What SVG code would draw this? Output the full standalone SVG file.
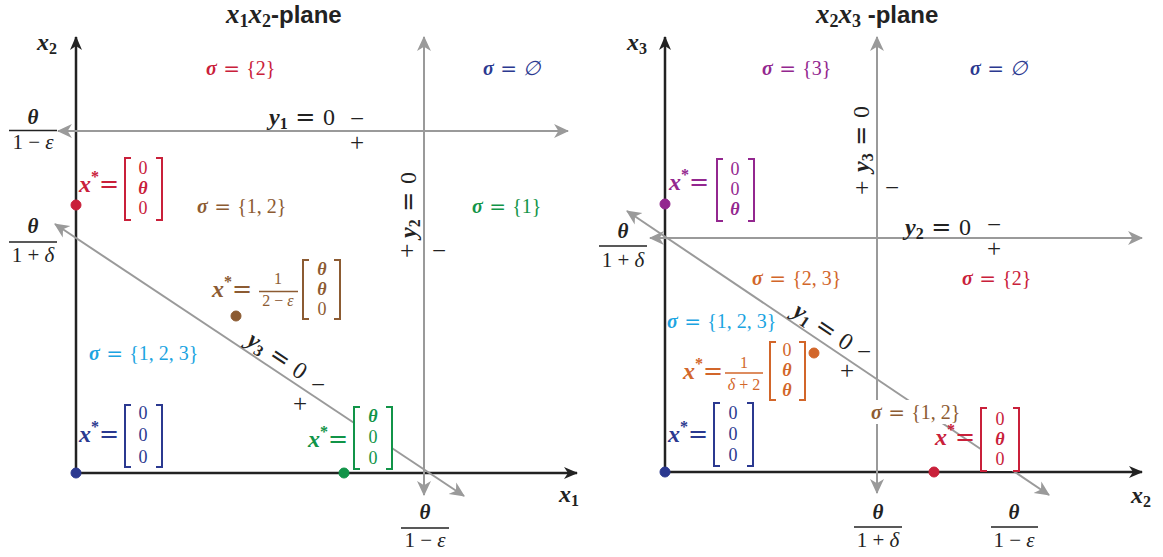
<svg xmlns="http://www.w3.org/2000/svg" width="1163" height="557" viewBox="0 0 1163 557">
<defs>
<style>
text{font-family:"Liberation Serif","DejaVu Serif",serif;}
.bi{font-style:italic;font-weight:bold;}
.t{font-size:24px;fill:#222;}
.tt{font-size:27px;fill:#222;}
.xs{font-size:24px;}
.sub{font-size:16px;font-weight:bold;font-style:normal;}
.tsub{font-size:18px;font-weight:bold;font-style:normal;}
.ttl{font-family:"Liberation Sans",Arial,sans-serif;font-weight:bold;font-size:24px;font-style:normal;}
.sg{font-size:20px;}
.eq{font-family:"DejaVu Sans",sans-serif;}
.me{font-size:18px;text-anchor:middle;}
.fr{font-size:21px;text-anchor:middle;fill:#222;}
.sf{font-size:16px;text-anchor:middle;}
.pm{font-size:25px;text-anchor:middle;fill:#222;}
.ax{stroke:#222;stroke-width:2.5;fill:none;}
.gl{stroke:#9a9a9a;stroke-width:2;fill:none;}
.fl{stroke:#222;stroke-width:1.4;}
.bg{fill:#fff;}
.red{fill:#c9203a;stroke:#c9203a;}
.navy{fill:#2b3990;stroke:#2b3990;}
.brown{fill:#8c5b32;stroke:#8c5b32;}
.green{fill:#119448;stroke:#119448;}
.blue{fill:#1ba4e1;stroke:#1ba4e1;}
.purple{fill:#93278f;stroke:#93278f;}
.orange{fill:#d2662a;stroke:#d2662a;}
text.red,text.navy,text.brown,text.green,text.blue,text.purple,text.orange{stroke:none;}
path.br{fill:none;stroke-width:2;}
</style>
<marker id="ak" viewBox="0 0 14 14" refX="13" refY="7" markerWidth="14" markerHeight="14" markerUnits="userSpaceOnUse" orient="auto-start-reverse"><path d="M0,1 L14,7 L0,13 L4,7 z" fill="#222"/></marker>
<marker id="ag" viewBox="0 0 14 14" refX="13" refY="7" markerWidth="15" markerHeight="15" markerUnits="userSpaceOnUse" orient="auto-start-reverse"><path d="M0,0.5 L14,7 L0,13.5 L4,7 z" fill="#9a9a9a"/></marker>
</defs>
<rect width="1163" height="557" fill="#fff"/>

<g id="connectors">
  <path class="ax" d="M76,473 V37" marker-end="url(#ak)"/>
  <path class="ax" d="M76,473 H577" marker-end="url(#ak)"/>
  <path class="gl" d="M58,131 H568" marker-start="url(#ag)" marker-end="url(#ag)"/>
  <path class="gl" d="M424,37 V495" marker-start="url(#ag)" marker-end="url(#ag)"/>
  <path class="gl" d="M55,224 L464,496" marker-start="url(#ag)" marker-end="url(#ag)"/>
  <path class="ax" d="M665,472 V37" marker-end="url(#ak)"/>
  <path class="ax" d="M665,472 H1142" marker-end="url(#ak)"/>
  <path class="gl" d="M877,37 V493" marker-start="url(#ag)" marker-end="url(#ag)"/>
  <path class="gl" d="M650,238 H1142" marker-start="url(#ag)" marker-end="url(#ag)"/>
  <path class="gl" d="M627,211 L1049,495" marker-start="url(#ag)" marker-end="url(#ag)"/>
</g>

<!-- LEFT PANEL -->
<g id="title-left"><text class="tt" x="226" y="23"><tspan class="bi">x</tspan><tspan class="tsub" dy="4">1</tspan><tspan class="bi" dy="-4">x</tspan><tspan class="tsub" dy="4">2</tspan><tspan class="ttl" dy="-4">-plane</tspan></text></g>
<g id="axis-label-x2-left"><text class="t" x="37" y="50"><tspan class="bi">x</tspan><tspan class="sub" dy="4">2</tspan></text></g>
<g id="axis-label-x1-left"><text class="t" x="559" y="502"><tspan class="bi">x</tspan><tspan class="sub" dy="4">1</tspan></text></g>

<g id="line-y1-label">
  <text class="t" x="269" y="125"><tspan class="bi">y</tspan><tspan class="sub" dy="4">1</tspan><tspan class="eq" dy="-4"> = </tspan>0</text>
  <text class="pm" x="357" y="127">−</text>
  <text class="pm" x="357" y="151">+</text>
</g>
<g id="line-y2-label">
  <text class="t" text-anchor="middle" transform="translate(416,205) rotate(-90)"><tspan class="bi">y</tspan><tspan class="sub" dy="4">2</tspan><tspan class="eq" dy="-4"> = </tspan>0</text>
  <text class="pm" x="407" y="259">+</text>
  <text class="pm" x="439" y="259">−</text>
</g>
<g id="line-y3-label">
  <text class="t" text-anchor="middle" transform="translate(273,362) rotate(33.6)"><tspan class="bi">y</tspan><tspan class="sub" dy="4">3</tspan><tspan class="eq" dy="-4"> = </tspan>0</text>
  <text class="pm" x="318" y="393">−</text>
  <text class="pm" x="300" y="412">+</text>
</g>

<g id="tick-left-1">
  <text class="fr" x="33" y="124"><tspan class="bi">θ</tspan></text>
  <line class="fl" x1="9" y1="130.5" x2="57" y2="130.5"/>
  <text class="fr" x="33" y="149">1 − <tspan font-style="italic">ε</tspan></text>
</g>
<g id="tick-left-2">
  <text class="fr" x="33" y="233"><tspan class="bi">θ</tspan></text>
  <line class="fl" x1="9" y1="242" x2="57" y2="242"/>
  <text class="fr" x="33" y="262">1 + <tspan font-style="italic">δ</tspan></text>
</g>
<g id="tick-left-3">
  <text class="fr" x="425" y="519"><tspan class="bi">θ</tspan></text>
  <line class="fl" x1="401" y1="528" x2="449" y2="528"/>
  <text class="fr" x="425" y="547">1 − <tspan font-style="italic">ε</tspan></text>
</g>

<g id="region-2-left"><text class="sg red" x="206" y="75"><tspan class="bi">σ</tspan><tspan class="eq"> = </tspan>{2}</text></g>
<g id="region-empty-left"><text class="sg navy" x="483" y="75"><tspan class="bi">σ</tspan><tspan class="eq"> = </tspan><tspan font-style="italic">∅</tspan></text></g>
<g id="region-12-left"><text class="sg brown" x="197" y="213"><tspan class="bi">σ</tspan><tspan class="eq"> = </tspan>{1, 2}</text></g>
<g id="region-1-left"><text class="sg green" x="472" y="213"><tspan class="bi">σ</tspan><tspan class="eq"> = </tspan>{1}</text></g>
<g id="region-123-left"><text class="sg blue" x="89" y="360"><tspan class="bi">σ</tspan><tspan class="eq"> = </tspan>{1, 2, 3}</text></g>

<g id="point-red-left">
  <circle class="red" cx="76" cy="205" r="5"/>
  <text class="xs red" x="79" y="192"><tspan class="bi">x</tspan><tspan font-size="16" font-weight="bold" dy="-10">*</tspan><tspan class="eq" dy="10">=</tspan></text>
  <rect class="bg" x="125" y="158" width="37" height="62"/>
  <path class="br red" d="M131,158 H125 V220 H131 M156,158 H162 V220 H156"/>
  <text class="me red" x="143" y="174">0</text>
  <text class="me red" x="143" y="194"><tspan class="bi">θ</tspan></text>
  <text class="me red" x="143" y="214">0</text>
</g>
<g id="point-brown-left">
  <circle class="brown" cx="236" cy="316" r="5"/>
  <text class="xs brown" x="212" y="297"><tspan class="bi">x</tspan><tspan font-size="16" font-weight="bold" dy="-10">*</tspan><tspan class="eq" dy="10">=</tspan></text>
  <text class="sf brown" x="278" y="284">1</text>
  <line class="brown" stroke-width="1.3" x1="259" y1="291.5" x2="298" y2="291.5"/>
  <text class="sf brown" x="278" y="306">2 − <tspan font-style="italic">ε</tspan></text>
  <path class="br brown" d="M309,260 H303 V319 H309 M334,260 H340 V319 H334"/>
  <text class="me brown" x="322" y="275"><tspan class="bi">θ</tspan></text>
  <text class="me brown" x="322" y="295"><tspan class="bi">θ</tspan></text>
  <text class="me brown" x="322" y="315">0</text>
</g>
<g id="point-green-left">
  <circle class="green" cx="344" cy="473" r="5"/>
  <text class="xs green" x="308" y="447"><tspan class="bi">x</tspan><tspan font-size="16" font-weight="bold" dy="-10">*</tspan><tspan class="eq" dy="10">=</tspan></text>
  <rect class="bg" x="354" y="407" width="38" height="62"/>
  <path class="br green" d="M360,407 H354 V469 H360 M386,407 H392 V469 H386"/>
  <text class="me green" x="373" y="422"><tspan class="bi">θ</tspan></text>
  <text class="me green" x="373" y="443">0</text>
  <text class="me green" x="373" y="464">0</text>
</g>
<g id="point-navy-left">
  <circle class="navy" cx="76" cy="473" r="5"/>
  <text class="xs navy" x="79" y="442"><tspan class="bi">x</tspan><tspan font-size="16" font-weight="bold" dy="-10">*</tspan><tspan class="eq" dy="10">=</tspan></text>
  <path class="br navy" d="M131,405 H125 V467 H131 M156,405 H162 V467 H156"/>
  <text class="me navy" x="143" y="419">0</text>
  <text class="me navy" x="143" y="441">0</text>
  <text class="me navy" x="143" y="463">0</text>
</g>

<!-- RIGHT PANEL -->
<g id="title-right"><text class="tt" x="816" y="23"><tspan class="bi">x</tspan><tspan class="tsub" dy="4">2</tspan><tspan class="bi" dy="-4">x</tspan><tspan class="tsub" dy="4">3</tspan><tspan class="ttl" dy="-4"> -plane</tspan></text></g>
<g id="axis-label-x3-right"><text class="t" x="627" y="50"><tspan class="bi">x</tspan><tspan class="sub" dy="4">3</tspan></text></g>
<g id="axis-label-x2-right"><text class="t" x="1131" y="503"><tspan class="bi">x</tspan><tspan class="sub" dy="4">2</tspan></text></g>

<g id="line-y3-label-right">
  <text class="t" text-anchor="middle" transform="translate(869,139) rotate(-90)"><tspan class="bi">y</tspan><tspan class="sub" dy="4">3</tspan><tspan class="eq" dy="-4"> = </tspan>0</text>
  <text class="pm" x="862" y="196">+</text>
  <text class="pm" x="892" y="196">−</text>
</g>
<g id="line-y2-label-right">
  <text class="t" x="905" y="235"><tspan class="bi">y</tspan><tspan class="sub" dy="4">2</tspan><tspan class="eq" dy="-4"> = </tspan>0</text>
  <text class="pm" x="994" y="233">−</text>
  <text class="pm" x="994" y="257">+</text>
</g>
<g id="line-y1-label-right">
  <text class="t" text-anchor="middle" transform="translate(819,333) rotate(33.8)"><tspan class="bi">y</tspan><tspan class="sub" dy="4">1</tspan><tspan class="eq" dy="-4"> = </tspan>0</text>
  <text class="pm" x="864" y="360">−</text>
  <text class="pm" x="847" y="379">+</text>
</g>

<g id="tick-right-1">
  <text class="fr" x="623" y="238"><tspan class="bi">θ</tspan></text>
  <line class="fl" x1="599" y1="246" x2="647" y2="246"/>
  <text class="fr" x="623" y="267">1 + <tspan font-style="italic">δ</tspan></text>
</g>
<g id="tick-right-2">
  <text class="fr" x="878" y="519"><tspan class="bi">θ</tspan></text>
  <line class="fl" x1="854" y1="527" x2="902" y2="527"/>
  <text class="fr" x="878" y="547">1 + <tspan font-style="italic">δ</tspan></text>
</g>
<g id="tick-right-3">
  <text class="fr" x="1014" y="519"><tspan class="bi">θ</tspan></text>
  <line class="fl" x1="991" y1="527" x2="1038" y2="527"/>
  <text class="fr" x="1014" y="547">1 − <tspan font-style="italic">ε</tspan></text>
</g>

<g id="region-3-right"><text class="sg purple" x="762" y="75"><tspan class="bi">σ</tspan><tspan class="eq"> = </tspan>{3}</text></g>
<g id="region-empty-right"><text class="sg navy" x="970" y="75"><tspan class="bi">σ</tspan><tspan class="eq"> = </tspan><tspan font-style="italic">∅</tspan></text></g>
<g id="region-23-right"><text class="sg orange" x="752" y="285"><tspan class="bi">σ</tspan><tspan class="eq"> = </tspan>{2, 3}</text></g>
<g id="region-2-right"><text class="sg red" x="962" y="285"><tspan class="bi">σ</tspan><tspan class="eq"> = </tspan>{2}</text></g>
<g id="region-123-right"><text class="sg blue" x="667" y="328"><tspan class="bi">σ</tspan><tspan class="eq"> = </tspan>{1, 2, 3}</text></g>
<g id="region-12-right">
  <rect class="bg" x="869" y="400" width="91" height="24"/>
  <text class="sg brown" x="871" y="419"><tspan class="bi">σ</tspan><tspan class="eq"> = </tspan>{1, 2}</text>
</g>

<g id="point-purple-right">
  <circle class="purple" cx="665" cy="204" r="5"/>
  <text class="xs purple" x="669" y="190"><tspan class="bi">x</tspan><tspan font-size="16" font-weight="bold" dy="-10">*</tspan><tspan class="eq" dy="10">=</tspan></text>
  <path class="br purple" d="M723,159 H717 V221 H723 M748,159 H754 V221 H748"/>
  <text class="me purple" x="735" y="175">0</text>
  <text class="me purple" x="735" y="195">0</text>
  <text class="me purple" x="735" y="215"><tspan class="bi">θ</tspan></text>
</g>
<g id="point-orange-right">
  <circle class="orange" cx="814" cy="353" r="5"/>
  <text class="xs orange" x="683" y="379"><tspan class="bi">x</tspan><tspan font-size="16" font-weight="bold" dy="-10">*</tspan><tspan class="eq" dy="10">=</tspan></text>
  <text class="sf orange" x="744" y="368">1</text>
  <line class="orange" stroke-width="1.3" x1="725" y1="373" x2="763" y2="373"/>
  <text class="sf orange" x="744" y="390"><tspan font-style="italic">δ</tspan> + 2</text>
  <path class="br orange" d="M776,342 H770 V400 H776 M799,342 H805 V400 H799"/>
  <text class="me orange" x="787" y="356">0</text>
  <text class="me orange" x="787" y="376"><tspan class="bi">θ</tspan></text>
  <text class="me orange" x="787" y="396"><tspan class="bi">θ</tspan></text>
</g>
<g id="point-navy-right">
  <circle class="navy" cx="665" cy="472" r="5"/>
  <text class="xs navy" x="668" y="442"><tspan class="bi">x</tspan><tspan font-size="16" font-weight="bold" dy="-10">*</tspan><tspan class="eq" dy="10">=</tspan></text>
  <path class="br navy" d="M720,403 H714 V466 H720 M747,403 H753 V466 H747"/>
  <text class="me navy" x="733" y="419">0</text>
  <text class="me navy" x="733" y="440">0</text>
  <text class="me navy" x="733" y="461">0</text>
</g>
<g id="point-red-right">
  <circle class="red" cx="934" cy="472" r="5"/>
  <text class="xs red" x="935" y="445"><tspan class="bi">x</tspan><tspan font-size="16" font-weight="bold" dy="-10">*</tspan><tspan class="eq" dy="10">=</tspan></text>
  <rect class="bg" x="981" y="408" width="38" height="63"/>
  <path class="br red" d="M987,408 H981 V471 H987 M1013,408 H1019 V471 H1013"/>
  <text class="me red" x="1000" y="425">0</text>
  <text class="me red" x="1000" y="445"><tspan class="bi">θ</tspan></text>
  <text class="me red" x="1000" y="465">0</text>
</g>
</svg>
